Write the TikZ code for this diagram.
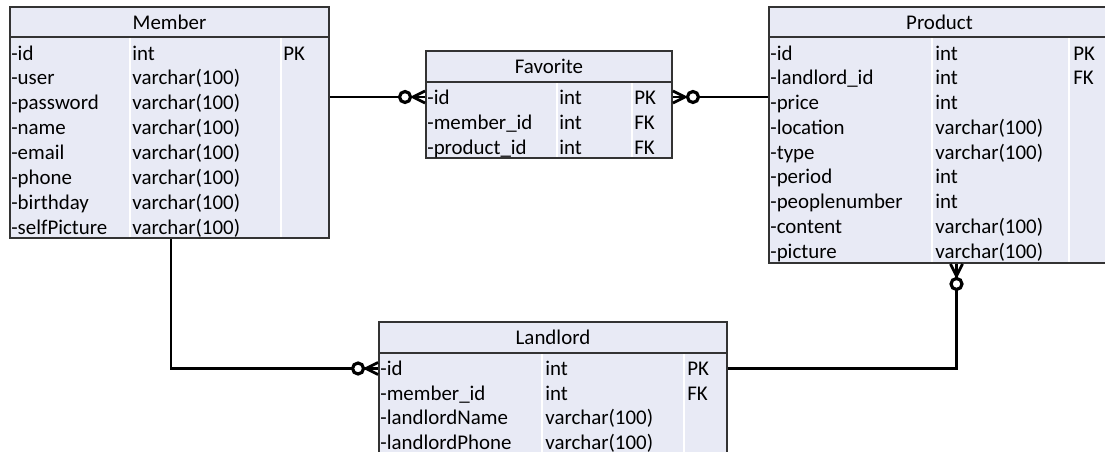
\documentclass[tikz,border=0pt]{standalone}
\usepackage{fontspec}
\setmainfont{Carlito}
\usetikzlibrary{fit,calc}
\definecolor{tablefill}{RGB}{232,234,245}
\definecolor{edgegray}{RGB}{51,51,51}
\tikzset{
	tbl/.style={draw=edgegray, line width=1.1pt, fill=tablefill, inner sep=0pt},
	hline/.style={draw=edgegray, line width=1.1pt},
	colsep/.style={draw=white, line width=0.8pt},
	cell/.style={inner sep=0pt, anchor=west, text height=9pt, text depth=1pt, font=\fontsize{11.9}{13}\selectfont},
	title/.style={cell, anchor=center},
	link/.style={draw=black, line width=1.7pt},
	zeromany/.pic={
		\draw[line width=1.6pt] (-12,0) -- (0,-6) (-12,0) -- (0,6);
		\draw[line width=1.8pt, fill=white] (-20,0) circle [radius=5.5];
	}
}
\begin{document}
\begin{tikzpicture}[x=0.02cm,y=-0.02cm]
		\path[use as bounding box, clip] (0,0) rectangle (1105,452);
		
		% Member
		\node[tbl, fit={(10,7) (329,238)}] (member) {};
		\draw[colsep] (130,38) -- (130,237) (281,38) -- (281,237);
		\draw[hline] (10,37) -- (329,37);
		\node[title] (member-h) at (169.5,22) {Member};
		\foreach \n/\t/\k [count=\i] in {id/int/PK, user/varchar(100)/, password/varchar(100)/, name/varchar(100)/, email/varchar(100)/, phone/varchar(100)/, birthday/varchar(100)/, selfPicture/varchar(100)/}
		{
			\node[cell] (member-\i) at (11,{53+24.9*(\i-1)}) {-\n};
			\node[cell] (member-\i-t) at (132,{53+24.9*(\i-1)}) {\t};
			\node[cell] (member-\i-k) at (283,{53+24.9*(\i-1)}) {\k};
		}
		
		% Favorite
		\node[tbl, fit={(426,51) (672,158)}] (favorite) {};
		\draw[colsep] (557,83) -- (557,157) (632,83) -- (632,157);
		\draw[hline] (426,82) -- (672,82);
		\node[title] (favorite-h) at (549,66.5) {Favorite};
		\foreach \n/\t/\k [count=\i] in {id/int/PK, member\_id/int/FK, product\_id/int/FK}
		{
			\node[cell] (favorite-\i) at (427,{97+25*(\i-1)}) {-\n};
			\node[cell] (favorite-\i-t) at (559,{97+25*(\i-1)}) {\t};
			\node[cell] (favorite-\i-k) at (634,{97+25*(\i-1)}) {\k};
		}
		
		% Product
		\node[tbl, fit={(769,7) (1110,263)}] (product) {};
		\draw[colsep] (932,38) -- (932,262) (1069,38) -- (1069,262);
		\draw[hline] (769,37) -- (1110,37);
		\node[title] (product-h) at (939.5,22) {Product};
		\foreach \n/\t/\k [count=\i] in {id/int/PK, landlord\_id/int/FK, price/int/, location/varchar(100)/, type/varchar(100)/, period/int/, peoplenumber/int/, content/varchar(100)/, picture/varchar(100)/}
		{
			\node[cell] (product-\i) at (770,{53+24.75*(\i-1)}) {-\n};
			\node[cell] (product-\i-t) at (935,{53+24.75*(\i-1)}) {\t};
			\node[cell] (product-\i-k) at (1073,{53+24.75*(\i-1)}) {\k};
		}
		
		% Landlord
		\node[tbl, fit={(379,322) (727,470)}] (landlord) {};
		\draw[colsep] (542,354) -- (542,469) (684,354) -- (684,469);
		\draw[hline] (379,353) -- (727,353);
		\node[title] (landlord-h) at (553,337.5) {Landlord};
		\foreach \n/\t/\k [count=\i] in {id/int/PK, member\_id/int/FK, landlordName/varchar(100)/, landlordPhone/varchar(100)/}
		{
			\node[cell] (landlord-\i) at (380,{368.5+24.6*(\i-1)}) {-\n};
			\node[cell] (landlord-\i-t) at (545,{368.5+24.6*(\i-1)}) {\t};
			\node[cell] (landlord-\i-k) at (687,{368.5+24.6*(\i-1)}) {\k};
		}
		
		% links
		\draw[link] (member.east |- favorite-1) -- (favorite.west |- favorite-1);
		\pic at (favorite.west |- favorite-1) {zeromany};
		\draw[link] (favorite.east |- favorite-1) -- (product.west |- favorite-1);
		\pic[rotate=180] at (favorite.east |- favorite-1) {zeromany};
		\draw[link] ($(member.south)+(1.5,0)$) |- (landlord.west |- landlord-1);
		\pic at (landlord.west |- landlord-1) {zeromany};
		\draw[link] (landlord.east |- landlord-1) -| ($(product.south)+(17,0)$);
		\pic[rotate=90] at ($(product.south)+(17,0)$) {zeromany};
	\end{tikzpicture}
\end{document}
